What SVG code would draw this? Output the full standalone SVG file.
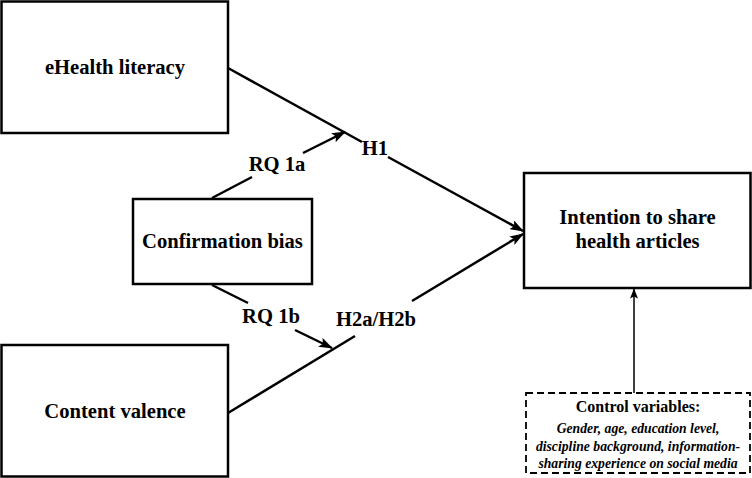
<svg xmlns="http://www.w3.org/2000/svg" width="752" height="478" viewBox="0 0 752 478">
<defs>
<style>
.box{fill:#fff;stroke:#000;stroke-width:2.5}
.dash{fill:#fff;stroke:#000;stroke-width:1.8;stroke-dasharray:7,4}
.t{font-family:"Liberation Serif","Times New Roman",serif;font-weight:bold;font-size:20.6px;fill:#000;text-anchor:middle}
.s{font-family:"Liberation Serif","Times New Roman",serif;font-weight:bold;font-size:16px;fill:#000;text-anchor:middle}
.i{font-family:"Liberation Serif","Times New Roman",serif;font-weight:bold;font-style:italic;font-size:13.7px;fill:#000;text-anchor:middle}
.ln{stroke:#000;stroke-width:2.5;fill:none}
.thin{stroke:#000;stroke-width:1.5;fill:none}
</style>
<marker id="arr" markerUnits="userSpaceOnUse" viewBox="0 0 14 10" markerWidth="14" markerHeight="10" refX="13" refY="5" orient="auto">
<path d="M0,0 L14,5 L0,10 L3,5 z" fill="#000"/>
</marker>
<marker id="arrs" markerUnits="userSpaceOnUse" viewBox="0 0 10 8" markerWidth="10" markerHeight="8" refX="9.5" refY="4" orient="auto">
<path d="M0,0 L10,4 L0,8 L2,4 z" fill="#000"/>
</marker>
</defs>
<g id="connectors">
<line class="ln" x1="228" y1="68" x2="362" y2="142"/>
<line class="ln" x1="388" y1="157" x2="523" y2="231" marker-end="url(#arr)"/>
<line class="ln" x1="212" y1="198" x2="252" y2="177"/>
<line class="ln" x1="303" y1="153" x2="345" y2="132" marker-end="url(#arr)"/>
<line class="ln" x1="212" y1="285" x2="248" y2="303"/>
<line class="ln" x1="295" y1="330" x2="332" y2="348" marker-end="url(#arr)"/>
<line class="ln" x1="228" y1="413" x2="355" y2="336"/>
<line class="ln" x1="412" y1="301" x2="523" y2="234" marker-end="url(#arr)"/>
<line class="thin" x1="634" y1="393" x2="634" y2="289" marker-end="url(#arrs)"/>
<text class="t" x="375" y="155">H1</text>
<text class="t" x="277" y="171">RQ 1a</text>
<text class="t" x="271" y="323">RQ 1b</text>
<text class="t" x="376" y="326">H2a/H2b</text>
</g>
<g id="ehealth">
<rect class="box" x="1.5" y="1.5" width="226.5" height="131.5"/>
<text class="t" x="115" y="74">eHealth literacy</text>
</g>
<g id="confirmation">
<rect class="box" x="133" y="199" width="179" height="85"/>
<text class="t" x="222.5" y="248">Confirmation bias</text>
</g>
<g id="valence">
<rect class="box" x="1.5" y="345" width="226.5" height="131.5"/>
<text class="t" x="115" y="418">Content valence</text>
</g>
<g id="intention">
<rect class="box" x="524" y="173" width="226.5" height="115"/>
<text class="t" x="637.5" y="224">Intention to share</text>
<text class="t" x="637.5" y="248">health articles</text>
</g>
<g id="control">
<rect class="dash" x="526" y="393" width="224" height="80"/>
<text class="s" x="638" y="412">Control variables:</text>
<text class="i" x="638" y="433">Gender, age, education level,</text>
<text class="i" x="638" y="451">discipline background, information-</text>
<text class="i" x="638" y="468">sharing experience on social media</text>
</g>
</svg>
